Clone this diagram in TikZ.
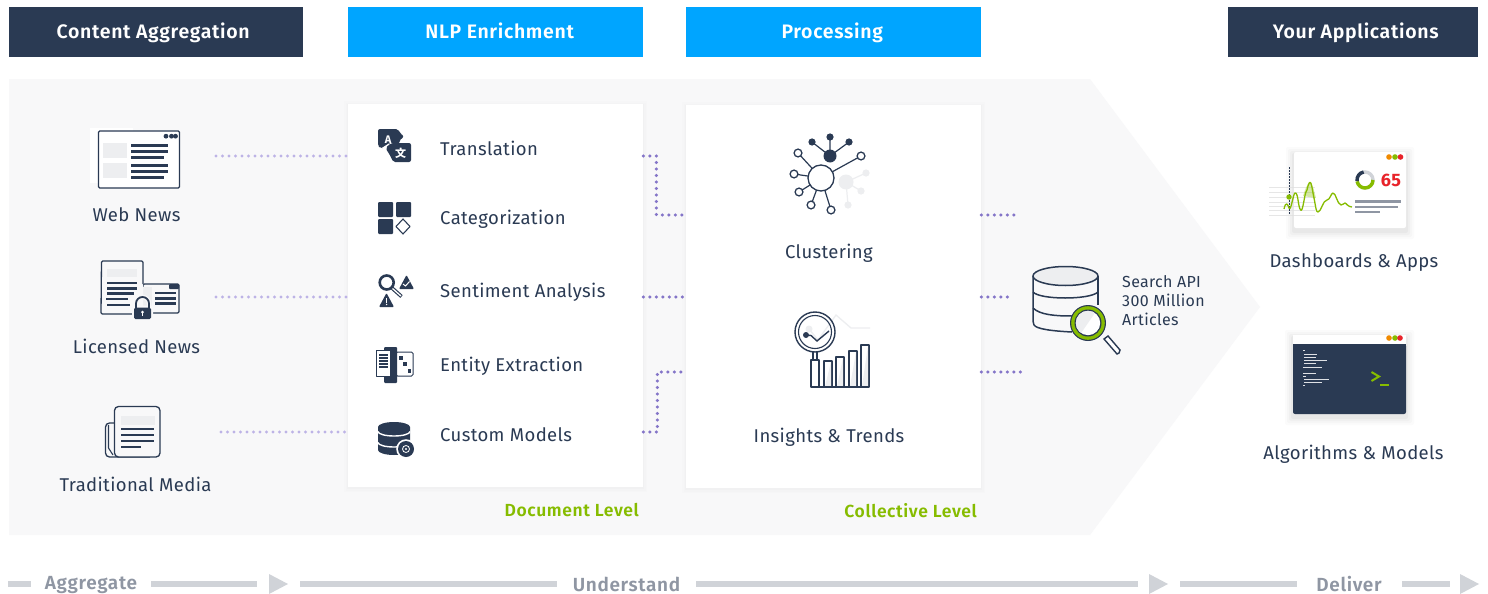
\documentclass[tikz,border=0pt]{standalone}
\usepackage{fontspec}
\setmainfont[LetterSpace=2]{Fira Sans}
\newfontfamily\cjkf{Noto Sans CJK SC}
\newfontfamily\boldsp[LetterSpace=3.4]{Fira Sans SemiBold}
\usetikzlibrary{calc}
\definecolor{navy}{HTML}{2A3A53}
\definecolor{sky}{HTML}{00A5FF}
\definecolor{panel}{HTML}{F8F8F9}
\definecolor{ghost}{HTML}{EDEEF0}
\definecolor{leaf}{HTML}{86BC00}
\definecolor{barc}{HTML}{D0D3D8}
\definecolor{barText}{HTML}{8F96A3}
\definecolor{dotL}{HTML}{BDB3E6}
\definecolor{dotD}{HTML}{8475C8}
\definecolor{alert}{HTML}{E8232A}
\definecolor{amber}{HTML}{F08A00}
\tikzset{
  head/.style={minimum height=50pt,inner sep=0,text=white,font=\boldsp\fontsize{19.5}{20}\selectfont,anchor=north west,text height=17pt,text depth=4pt},
  card/.style={fill=white,minimum width=295pt,inner sep=0,anchor=north west},
  lab/.style={text=navy,font=\fontsize{18.5}{20}\selectfont,inner sep=0},
  small/.style={text=navy,font=\fontsize{16}{20}\selectfont,inner sep=0,anchor=base west},
  lvl/.style={text=leaf,font=\boldsp\fontsize{17.5}{18}\selectfont,inner sep=0,anchor=east},
  stage/.style={text=barText,font=\boldsp\fontsize{19}{20}\selectfont,inner sep=0},
  dotl/.style={line width=3.4pt,dotL,line cap=round,dash pattern=on 0pt off 6.5pt},
  dotd/.style={line width=3.4pt,dotD,line cap=round,dash pattern=on 0pt off 6.5pt},
  bar/.style={fill=barc},
  ico/.style={draw=navy,line width=1.3pt,line join=round},
  rule/.style={draw=navy,line width=2.4pt},
  thin/.style={draw=navy,line width=1.1pt},
  gh/.style={fill=ghost},
}
\newcommand{\softshadow}[4]{%
  \foreach \g/\o in {8/.014,6/.018,4/.024,2/.03}{
    \fill[black,opacity=\o,rounded corners=2pt] (#1-\g,#2-\g+3) rectangle (#3+\g,#4+\g+3);}}
\newcommand{\faintshadow}[4]{%
  \foreach \g/\o in {4/.006,2.5/.008,1/.012}{
    \fill[black,opacity=\o] (#1-\g,#2-\g+1) rectangle (#3+\g,#4+\g+1);}}
\begin{document}
\begin{tikzpicture}[x=1pt,y=-1pt]
\useasboundingbox (0,0) rectangle (1488,594);
\fill[white] (0,0) rectangle (1488,594);
% panel
\fill[panel] (9,79) -- (1090,79) -- (1260,307) -- (1090,535) -- (9,535) -- cycle;
% headers
\node[head,fill=navy,minimum width=294pt] (h1) at (9,7) {Content Aggregation\hspace*{6pt}};
\node[head,fill=sky,minimum width=295pt] (h2) at (348,7) {\hspace*{8pt}NLP Enrichment};
\node[head,fill=sky,minimum width=295pt] (h3) at (686,7) {Processing\hspace*{3pt}};
\node[head,fill=navy,minimum width=250pt] (h4) at (1228,7) {\hspace*{5pt}Your Applications};
% cards
\faintshadow{348}{104}{643}{487}
\faintshadow{686}{105}{981}{488}
\node[card,minimum height=383pt] (nlp) at (348,104) {};
\node[card,minimum height=383pt] (proc) at (686,105) {};
\node[lvl] (dl) at (639,510.5) {Document Level};
\node[lvl] (cl) at (977,510.5) {Collective Level};
% left connectors
\coordinate (w) at (216,156); \coordinate (l) at (216,297); \coordinate (t) at (221,432);
\draw[dotl] (w) -- (w -| nlp.west);
\draw[dotl] (l) -- (l -| nlp.west);
\draw[dotl] (t) -- (t -| nlp.west);
% middle connectors
\coordinate (a1) at (nlp.east |- 0,156); \coordinate (b1) at (proc.west |- 0,215);
\coordinate (a2) at (nlp.east |- 0,297); \coordinate (b2) at (proc.west |- 0,297);
\coordinate (a3) at (nlp.east |- 0,432); \coordinate (b3) at (proc.west |- 0,372);
\draw[dotd] (a1) -- ++(13,0) |- (b1);
\draw[dotd] (a2) -- (b2);
\draw[dotd] (a3) -- ++(14,0) |- (b3);
% right connectors
\coordinate (e1) at (1018,215); \coordinate (e2) at (1013,297); \coordinate (e3) at (1021,372);
\draw[dotd] (proc.east |- e1) -- (e1);
\draw[dotd] (proc.east |- e2) -- (e2);
\draw[dotd] (proc.east |- e3) -- (e3);
% ---- Web news icon
\fill[white] (90,128) rectangle (133,183);
\draw[ico,fill=white,rounded corners=1.2pt] (98.5,131) rectangle (179.5,188);
\foreach \x in {166,171.5,175.5} \fill[navy] (\x,136.2) circle (2.4);
\fill[gh] (103,143) rectangle (127,158);
\fill[gh] (103,163) rectangle (127,178);
\foreach \y/\e in {145.5/168,151.5/168,157.5/164,165.5/168,171.5/168,177.5/164}
  \draw[rule] (131,\y) -- (\e,\y);
\node[lab] (webnews) at (136.5,214.5) {Web News};
% ---- Licensed icon
\draw[ico,fill=panel,rounded corners=1.2pt] (143,284) rectangle (179,313);
\fill[navy,rounded corners=1pt] (169,284) rectangle (179,289);
\fill[gh] (143,287) rectangle (152,310);
\foreach \y in {293,298.5,303.5} \draw[navy,line width=2.2pt] (155,\y) -- (176,\y);
\draw[ico,fill=panel,rounded corners=1.2pt] (143,284) -- (143,261) -- (101.5,261) -- (101,314) -- (143,314);
\fill[gh] (107,269) rectangle (137,277);
\foreach \s/\y/\e in {107/283/137,107/288.5/137,107/293.5/134,106/299/128,107/305/130}
  \draw[rule] (\s,\y) -- (\e,\y);
\draw[panel,line width=4.5pt] (136,308) -- (136,303.5) arc[start angle=180,end angle=360,radius=6.5] -- (149,308);
\fill[panel,rounded corners=2pt] (132,305.5) rectangle (153,321);
\draw[navy,line width=1.8pt] (136,308) -- (136,303.5) arc[start angle=180,end angle=360,radius=6.5] -- (149,308);
\fill[navy,rounded corners=1.5pt] (134,307.5) rectangle (151,319);
\fill[white] (142.5,312) circle (1.5); \fill[white] (141.9,312) rectangle (143.1,316);
\node[lab] (licnews) at (136.5,346.5) {Licensed News};
% ---- Traditional icon
\draw[ico,rounded corners=4pt] (114,423) -- (105.5,423) -- (105.5,457) -- (150,457);
\draw[thin] (108.5,425) -- (108.5,448) -- (113,455);
\draw[ico,fill=panel,rounded corners=4pt] (114.5,457) -- (114.5,406.5) -- (160,406.5) -- (160,457) -- cycle;
\fill[gh] (121,416) rectangle (155,425);
\foreach \y/\e in {429/154,435/154,441/154,447/141} \draw[thin] (121,\y) -- (\e,\y);
\node[lab] (tradmedia) at (135.5,484.5) {Traditional Media};
% ---- Translation
\fill[navy,rounded corners=2pt] (378,129) -- (398,129) -- (400,133) -- (404,136.5) -- (399,141) -- (399,148) -- (380,148) -- (378,146) -- cycle;
\draw[white,line width=3pt] (390,144.5) -- (412,144.5) (390,144.5) -- (384.5,148) -- (391,153);
\fill[navy,rounded corners=2pt] (391,143) -- (411,143) -- (411,162) -- (393,162) -- (391,157) -- (385.5,148) -- cycle;
\node[text=white,font=\fontsize{11}{11}\selectfont\bfseries,inner sep=0] (aglyph) at (388,139.5) {A};
\node[text=white,font=\cjkf\fontsize{11}{11}\selectfont\bfseries,inner sep=0] (wen) at (400.5,153) {文};
\node[lab,anchor=west] (n1) at (440,148.5) {Translation};
% ---- Categorization
\fill[navy,rounded corners=1pt] (378,202) rectangle (393,217);
\fill[navy,rounded corners=1pt] (396,202) rectangle (411,217);
\fill[navy,rounded corners=1pt] (378,219) rectangle (393,234);
\draw[thin,line join=round] (403,219) -- (410,226.5) -- (403,234) -- (396,226.5) -- cycle;
\node[lab,anchor=west] (n2) at (440,219.5) {Categorization};
% ---- Sentiment
\draw[navy,line width=2.6pt] (386.7,282.5) circle (7);
\draw[navy,line width=3.6pt] (392,288) -- (401.5,296.5);
\draw[white,line width=1.3pt] (392.5,288.5) -- (401,296);
\fill[navy,rounded corners=1pt] (399,289) -- (406.5,275) -- (414,289) -- cycle;
\draw[white,line width=1pt] (403,284) -- (405.5,286) -- (409.5,281.5);
\fill[navy,rounded corners=1pt] (379,307) -- (386.5,293) -- (394,307) -- cycle;
\fill[white] (386,297.5) rectangle (387.2,302.5); \fill[white] (386.6,304.5) circle (.8);
\node[lab,anchor=west] (n3) at (440,292.5) {Sentiment Analysis};
% ---- Entity extraction
\draw[ico,line width=1pt,rounded corners=1.5pt,fill=white] (396,352) rectangle (413,376);
\fill[navy,rounded corners=1pt] (384,347) rectangle (397,383);
\draw[ico,line width=1pt,fill=white] (376,350) rectangle (390,376);
\foreach \y in {355,358,361,364,367} \draw[navy,line width=1.2pt] (379,\y) -- (388,\y);
\fill[navy] (399,356) rectangle (402.5,359.5);
\fill[navy] (403,362) rectangle (406.5,365.5);
\fill[navy] (407.5,369) rectangle (411,372.5);
\node[lab,anchor=west] (n4) at (440,366) {Entity Extraction};
% ---- Custom models
\fill[navy] (378,427) -- (378,450) arc[start angle=180,end angle=0,x radius=16,y radius=5] -- (410,427) arc[start angle=0,end angle=-180,x radius=16,y radius=5] -- cycle;
\draw[white,line width=1.4pt] (378,431.5) arc[start angle=180,end angle=0,x radius=16,y radius=4.5];
\draw[white,line width=1.4pt] (378,442.5) arc[start angle=180,end angle=0,x radius=16,y radius=4.5];
\fill[white] (406,449) circle (9.8);
\fill[navy] (406,449) circle (8);
\draw[white,line width=.8pt] (406,449) circle (3.5);
\fill[white] (406,449) circle (1.2);
\node[lab,anchor=west] (n5) at (440,435) {Custom Models};
% ---- Clustering
\fill[gh] (846,182) circle (7.5);
\draw[ghost,line width=1.2pt] (846,182) -- (866,173) (846,182) -- (861,191) (846,182) -- (848,205);
\foreach \p in {(866,173),(861,191),(848,205)} \fill[gh] \p circle (3.6);
\draw[navy,line width=1.2pt] (830,156) -- (812,142) (830,156) -- (830,137) (830,156) -- (849,142);
\fill[navy] (830,156) circle (6.5);
\foreach \p in {(812,142),(830,137),(849,142)} \fill[navy] \p circle (3.6);
\foreach \p in {(798,153),(861,156),(794,174),(799,192),(811,205),(831,210)}
  \draw[navy,line width=1.2pt] (821,178) -- \p;
\foreach \p in {(798,153),(861,156),(794,174),(799,192),(811,205),(831,210)}
  \draw[navy,line width=1.3pt,fill=white] \p circle (3.9);
\draw[navy,line width=1.3pt,fill=white] (821,178) circle (13);
\node[lab] (clu) at (829,253.5) {Clustering};
% ---- Insights
\draw[ghost,line width=1.3pt] (809,329) -- (818,340) -- (836,315) -- (851,328) -- (870,328);
\fill[gh] (809,329) circle (3.5);
\foreach \a/\b in {824/361,836/357,849/351,861/345}{
  \draw[ico,fill=white] (\a,\b) rectangle (\a+8,387);
  \fill[ghost] (\a+1,386.4) -- (\a+7,386.4) -- (\a+7,\b+1) -- cycle;}
\draw[ico,fill=white] (811,360) rectangle (819,387);
\draw[ico] (811,387) -- (869,387);
\draw[ico] (813,352) -- (813,360) (817,352) -- (817,360);
\draw[navy,line width=1.4pt] (815,332) circle (20);
\draw[navy,line width=1.1pt] (815,332) circle (16.5);
\draw[navy,line width=1.4pt] (806,335) -- (811,335.5) -- (817,341) -- (829,331);
\fill[navy] (806,335) circle (3);
\node[lab] (ins) at (829,437.5) {Insights \& Trends};
% ---- Search API DB
\draw[ico,line width=1.5pt,rounded corners=2pt] (1033,276) -- (1033,323) .. controls (1036,329) and (1052,331) .. (1072,332);
\draw[ico,line width=1.5pt] (1098,276) -- (1098,305);
\draw[ico,line width=1.5pt,fill=ghost] (1065.5,276) ellipse (32.5 and 9.5);
\draw[ico,line width=1.5pt] (1033,292) .. controls (1040,300) and (1090,300) .. (1098,292);
\draw[ico,line width=1.5pt] (1033,308) .. controls (1040,315) and (1056,316) .. (1072,316);
\draw[navy,line width=1.4pt,fill=white] (1104,339) -- (1117,354) -- (1119,353) -- (1120,350) -- (1108,336) -- cycle;
\fill[navy] (1088,323) circle (18);
\fill[leaf] (1088,323) circle (16.8);
\fill[navy] (1088,323) circle (13.5);
\fill[white] (1088,323) circle (12.2);
\begin{scope}
\clip (1088,323) circle (12.2);
\fill[ghost] (1075,310) -- (1097,310) -- (1079,336) -- (1075,336) -- cycle;
\end{scope}
\node[small] (s1) at (1122,287) {Search API};
\node[small] (s2) at (1122,306) {300 Million};
\node[small] (s3) at (1122,325.5) {Articles};
% ---- Dashboard
\softshadow{1294}{152}{1406}{228}
\fill[white,rounded corners=2pt] (1294,152) rectangle (1406,228);
\foreach \y in {187,192,197,202,206,210,215} \draw[black!12,line width=.8pt,opacity=.8] (1269,\y) -- (1315,\y);
\draw[navy,line width=1.3pt,dash pattern=on 1.5pt off 1.5pt] (1289.5,167) -- (1289.5,215);
\fill[leaf,opacity=.35] (1303,196) .. controls (1305,190) and (1307,183) .. (1310,183) .. controls (1313,183) and (1314,192) .. (1316,198) -- cycle;
\draw[leaf,line width=1.3pt,line join=round] (1284,209) .. controls (1286,200) and (1288,205) .. (1289,208)
 .. controls (1291,212) and (1293,194) .. (1295,193) .. controls (1298,192) and (1298,205) .. (1300,209)
 .. controls (1303,216) and (1304,193) .. (1307,190) .. controls (1311,172) and (1312,190) .. (1314,198)
 .. controls (1316,208) and (1316,212) .. (1318,212) .. controls (1321,212) and (1323,200) .. (1327,200)
 .. controls (1330,200) and (1331,193) .. (1333,193) .. controls (1336,193) and (1337,204) .. (1341,205)
 .. controls (1343,205) and (1344,203) .. (1345,203) .. controls (1346,203) and (1348,207) .. (1352,207);
\fill[leaf] (1289,197) circle (2.7);
\foreach \x/\c in {1389/amber,1395/leaf,1400.5/alert} \fill[\c] (\x,157) circle (2.8);
\draw[barc,line width=3.4pt] (1365,180) circle (8);
\draw[leaf,line width=3.4pt] (1373,180) arc[start angle=0,end angle=170,radius=8];
\draw[navy,line width=3.4pt] (1357.1,181) arc[start angle=172,end angle=260,radius=8];
\node[text=alert,font=\bfseries\fontsize{18}{18}\selectfont,inner sep=0] (sixtyfive) at (1391,180.5) {65};
\foreach \y/\e in {201.5/1401,207/1398,212/1380} \draw[barText,line width=2.2pt] (1355,\y) -- (\e,\y);
\node[lab] (dash) at (1354,263) {Dashboards \& Apps};
% ---- Algorithms
\softshadow{1293}{335}{1406}{414}
\fill[white] (1293,335) rectangle (1406,345);
\fill[navy,rounded corners=2pt] (1293,344) rectangle (1406,414);
\fill[navy] (1293,344) rectangle (1406,350);
\foreach \x/\c in {1389/amber,1395/leaf,1400/alert} \fill[\c] (\x,338) circle (2.8);
\foreach \y/\s/\e in {350/1303/1305,354/1304/1317,357/1304/1316,360/1304/1327,363/1304/1316,367/1303/1322,373/1303/1316,376/1303/1306,379/1304/1329,382/1304/1322,385/1303/1305}
  \draw[white!85!navy,line width=.7pt] (\s,\y) -- (\e,\y);
\draw[leaf,line width=2pt] (1371.5,372) -- (1379,376.5) -- (1371.5,381);
\draw[leaf,line width=2pt] (1380,384.5) -- (1389,384.5);
\node[lab] (algo) at (1353.5,454) {Algorithms \& Models};
% ---- bottom
\fill[bar] (8,581) rectangle (31,587);
\node[stage] (agg) at (91,585) {Aggregate};
\fill[bar] (151,581) rectangle (257,587);
\fill[bar] (269,574) -- (288,584) -- (269,594) -- cycle;
\fill[bar] (300,581) rectangle (557,587);
\node[stage] (und) at (626.5,584) {Understand};
\fill[bar] (696,581) rectangle (1138,587);
\fill[bar] (1149,574) -- (1168,584) -- (1149,594) -- cycle;
\fill[bar] (1180,581) rectangle (1297,587);
\node[stage] (del) at (1349,584) {Deliver};
\fill[bar] (1402,581) rectangle (1450,587);
\fill[bar] (1460,574) -- (1479,584) -- (1460,594) -- cycle;
\end{tikzpicture}
\end{document}
